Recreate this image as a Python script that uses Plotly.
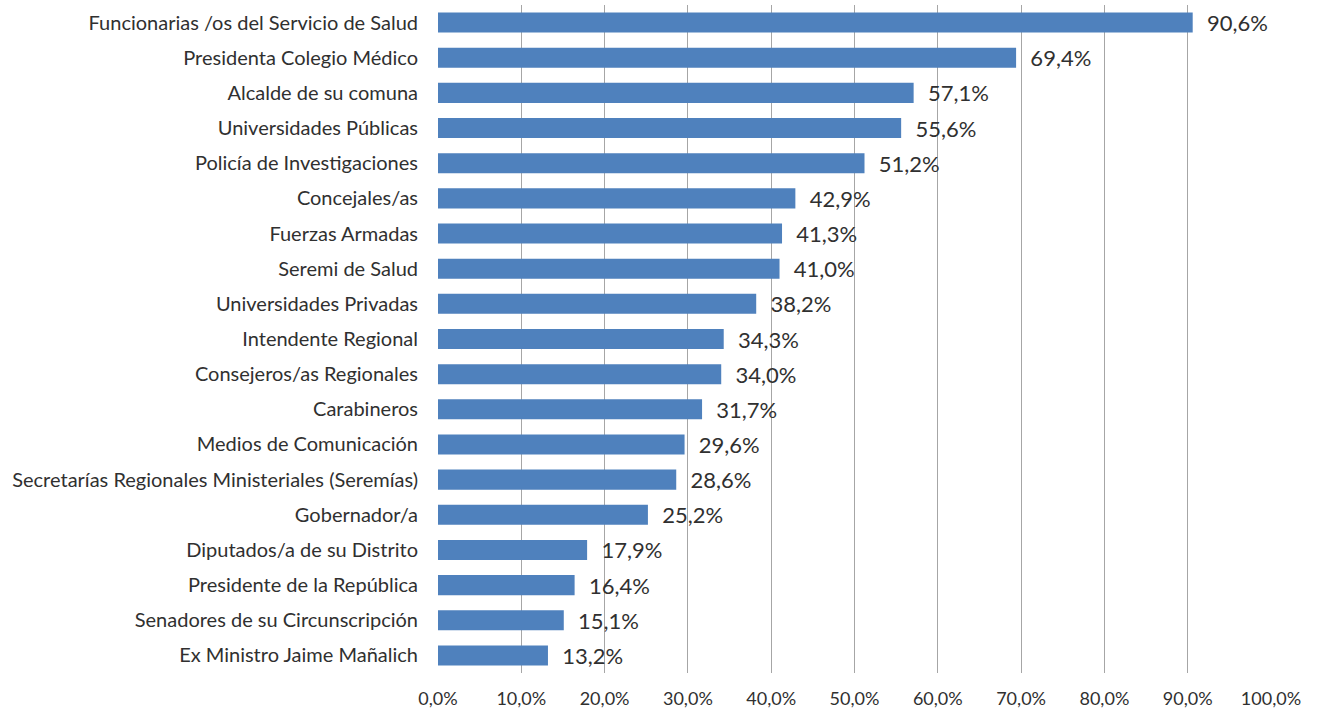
import plotly.graph_objects as go

categories = [
    "Funcionarias /os del Servicio de Salud",
    "Presidenta Colegio Médico",
    "Alcalde de su comuna",
    "Universidades Públicas",
    "Policía de Investigaciones",
    "Concejales/as",
    "Fuerzas Armadas",
    "Seremi de Salud",
    "Universidades Privadas",
    "Intendente Regional",
    "Consejeros/as Regionales",
    "Carabineros",
    "Medios de Comunicación",
    "Secretarías Regionales Ministeriales (Seremías)",
    "Gobernador/a",
    "Diputados/a de su Distrito",
    "Presidente de la República",
    "Senadores de su Circunscripción",
    "Ex Ministro Jaime Mañalich",
]
values = [90.6, 69.4, 57.1, 55.6, 51.2, 42.9, 41.3, 41.0, 38.2, 34.3, 34.0,
          31.7, 29.6, 28.6, 25.2, 17.9, 16.4, 15.1, 13.2]
tick_vals = [0, 10, 20, 30, 40, 50, 60, 70, 80, 90, 100]
tick_text = [f"{v:.1f}%".replace(".", ",") for v in tick_vals]
labels = ["  " + f"{v:.1f}%".replace(".", ",") for v in values]

font_family = "Lato, Open Sans, sans-serif"
text_color = "#303030"

fig = go.Figure(go.Bar(
    x=values, y=categories, orientation="h",
    marker=dict(color="#4F81BD", line=dict(width=0)),
    text=labels, textposition="outside", cliponaxis=False,
    constraintext="none",
    textfont=dict(size=22, color=text_color, family=font_family),
))
fig.update_layout(
    width=1320, height=711,
    margin=dict(l=438, r=49, t=5, b=38),
    paper_bgcolor="white", plot_bgcolor="white",
    bargap=0.43, showlegend=False,
    font=dict(family=font_family, color=text_color, size=18),
)
fig.update_xaxes(range=[0, 100], tickvals=tick_vals, ticktext=tick_text,
                 showgrid=True, gridcolor="#A6A6A6", gridwidth=1,
                 zeroline=False, showline=False, ticks="", automargin=False,
                 ticklabelstandoff=13, tickfont=dict(size=18))
fig.update_yaxes(autorange="reversed", showgrid=False, showline=False,
                 ticks="", automargin=False,
                 ticklabelstandoff=19, tickfont=dict(size=20))
fig.write_html("out.html", config={"displayModeBar": False},
               post_script="document.body.style.margin='0';document.body.style.overflow='hidden';")
